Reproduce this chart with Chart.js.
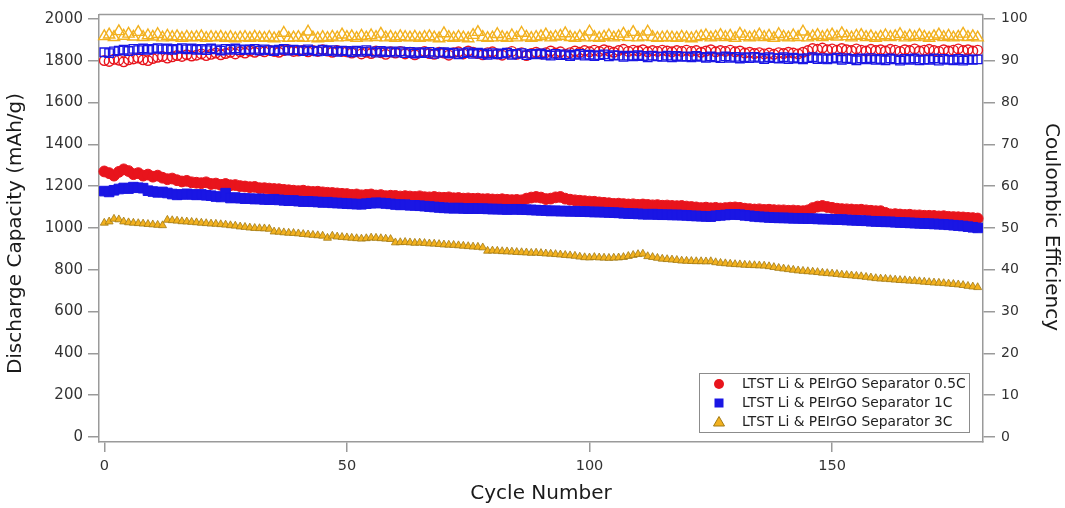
<!DOCTYPE html>
<html>
<head>
<meta charset="utf-8">
<script src="https://cdn.jsdelivr.net/npm/chart.js@4.4.1/dist/chart.umd.min.js"></script>
<style>
html,body{margin:0;padding:0;background:#fff;}
#wrap{width:1065px;height:508px;}
</style>
</head>
<body>
<div id="wrap"><canvas id="c" width="1065" height="508"></canvas></div>
<script>
// ---- data ----
const cycles = [];
for (let i = 0; i <= 180; i++) cycles.push(i);

const capTicks = [0,200,400,600,800,1000,1200,1400,1600,1800,2000];
const ceTicks = [0,10,20,30,40,50,60,70,80,90,100];
const cycleTicks = [0,50,100,150];

const seriesNames = [
  'LTST Li & PEIrGO Separator 0.5C',
  'LTST Li & PEIrGO Separator 1C',
  'LTST Li & PEIrGO Separator 3C'
];

const cap05C = [
1270,1262,1250,1268,1280,1272,1257,1262,1250,1255,
1245,1250,1240,1233,1236,1228,1222,1225,1218,1216,
1214,1218,1210,1212,1206,1210,1204,1205,1200,1198,
1195,1196,1190,1190,1188,1186,1185,1182,1180,1178,
1176,1178,1174,1172,1173,1170,1168,1167,1165,1163,
1162,1158,1160,1156,1158,1160,1155,1157,1152,1154,
1153,1150,1152,1150,1148,1151,1147,1146,1148,1145,
1144,1146,1142,1143,1140,1141,1139,1140,1137,1138,
1136,1135,1137,1134,1133,1134,1132,1140,1145,1148,
1145,1138,1140,1146,1148,1140,1135,1132,1130,1128,
1126,1125,1122,1120,1118,1115,1116,1114,1112,1113,
1110,1112,1110,1108,1109,1106,1107,1105,1104,1105,
1102,1100,1098,1095,1097,1094,1096,1093,1095,1097,
1098,1096,1092,1090,1088,1089,1086,1087,1085,1084,
1084,1082,1083,1081,1080,1084,1095,1102,1105,1100,
1096,1092,1090,1089,1088,1086,1087,1084,1082,1080,
1080,1072,1065,1066,1064,1062,1063,1060,1060,1058,
1058,1057,1055,1056,1053,1052,1051,1050,1048,1047,
1045];

const cap1C = [
1176,1172,1180,1186,1191,1188,1195,1192,1190,1178,
1174,1170,1172,1167,1162,1158,1160,1163,1160,1158,
1160,1156,1154,1150,1148,1166,1143,1145,1142,1140,
1140,1138,1139,1136,1135,1137,1134,1132,1130,1131,
1128,1126,1127,1125,1124,1122,1123,1120,1119,1118,
1116,1115,1114,1113,1116,1118,1120,1119,1117,1115,
1112,1110,1111,1108,1108,1106,1104,1102,1100,1098,
1096,1095,1094,1095,1093,1092,1093,1092,1092,1091,
1090,1090,1089,1088,1089,1089,1088,1087,1086,1085,
1084,1083,1081,1082,1080,1081,1079,1080,1078,1078,
1077,1076,1076,1075,1074,1073,1072,1070,1069,1068,
1067,1066,1065,1066,1064,1063,1063,1062,1062,1061,
1060,1058,1057,1056,1055,1054,1058,1060,1062,1064,
1065,1063,1060,1058,1055,1053,1052,1050,1049,1048,
1048,1047,1046,1046,1045,1044,1044,1043,1042,1042,
1041,1040,1040,1038,1037,1036,1035,1034,1032,1031,
1030,1029,1029,1027,1026,1025,1024,1023,1022,1021,
1020,1019,1018,1017,1015,1013,1011,1009,1006,1003,
1000];

const cap3C = [
1024,1030,1043,1040,1030,1026,1024,1022,1020,1018,
1016,1014,1012,1038,1036,1034,1031,1030,1028,1026,
1024,1022,1020,1019,1017,1015,1012,1010,1006,1004,
1001,999,998,997,995,982,981,978,976,975,
973,970,968,966,964,962,952,962,958,956,
954,952,950,948,950,953,952,950,948,946,
930,931,932,930,928,929,927,925,924,922,
920,919,918,916,914,912,910,909,906,890,
891,890,888,887,886,884,883,882,880,881,
879,877,876,874,872,870,868,866,862,859,
858,860,858,857,856,857,858,860,865,870,
874,876,864,860,856,852,850,848,846,843,
842,841,840,840,839,840,835,832,830,828,
826,825,823,822,821,820,819,816,812,808,
805,802,799,796,794,792,790,788,785,783,
781,779,776,774,772,770,768,765,762,759,
757,756,754,752,750,749,747,746,744,742,
740,738,737,735,733,731,729,726,722,719,
716];

const ce05C = [
90.0,89.8,90.3,90.1,89.7,90.2,90.4,90.6,90.2,90.0,
90.5,90.8,91.0,90.6,90.9,91.2,91.0,91.4,91.1,91.3,
91.6,91.2,91.5,91.8,91.4,91.7,92.0,91.6,92.1,91.8,
92.3,92.0,92.4,92.1,92.5,92.2,92.0,92.4,92.6,92.2,
92.3,92.5,92.1,92.4,92.2,92.6,92.3,92.0,92.4,92.2,
92.1,91.8,92.2,91.6,92.0,91.7,92.3,91.9,91.5,92.1,
91.8,92.2,91.6,92.0,91.4,91.9,92.2,91.7,91.5,92.0,
91.8,91.3,91.9,92.1,91.6,92.3,92.0,91.7,91.4,91.9,
92.1,91.6,91.3,91.8,92.2,91.5,91.9,91.2,91.7,92.0,
91.6,91.9,92.3,91.8,92.1,91.5,91.9,92.3,92.0,92.4,
92.1,92.5,92.2,92.6,92.3,92.0,92.4,92.7,92.2,92.5,
92.3,92.6,92.1,92.4,92.2,92.5,92.3,92.1,92.4,92.2,
92.5,92.2,92.4,92.0,92.3,92.6,92.1,92.4,92.2,92.5,
92.1,92.3,91.8,92.0,91.7,91.9,91.6,91.8,91.5,91.9,
91.7,92.0,91.8,91.6,92.0,92.4,92.9,92.7,93.0,92.6,
92.8,92.5,92.9,92.6,92.4,92.8,92.5,92.3,92.7,92.4,
92.6,92.3,92.7,92.5,92.2,92.6,92.4,92.8,92.3,92.5,
92.7,92.4,92.2,92.6,92.3,92.5,92.8,92.4,92.6,92.3,
92.5];

const ce1C = [
92.0,91.8,92.2,92.4,92.6,92.3,92.8,92.5,92.9,92.6,
92.8,93.0,92.7,92.9,92.6,92.8,93.0,92.7,92.9,92.6,
92.8,92.5,92.9,92.7,92.4,92.8,92.6,92.9,92.5,92.7,
92.6,92.8,92.4,92.7,92.5,92.3,92.6,92.8,92.4,92.6,
92.5,92.3,92.7,92.4,92.2,92.6,92.3,92.5,92.1,92.4,
92.3,92.0,92.4,92.1,92.5,92.2,91.9,92.3,92.0,92.2,
91.9,92.2,91.8,92.1,91.7,92.0,91.8,92.1,91.6,91.9,
92.0,91.7,91.9,91.5,91.8,92.0,91.6,91.9,91.7,91.4,
91.8,91.5,91.7,91.9,91.4,91.6,91.8,91.3,91.6,91.5,
91.7,91.4,91.2,91.6,91.3,91.5,91.1,91.4,91.6,91.2,
91.4,91.1,91.3,91.5,91.0,91.3,91.2,90.9,91.2,91.0,
91.3,91.1,90.8,91.2,91.0,90.9,91.2,90.8,91.1,90.9,
91.0,90.8,91.1,90.9,90.7,91.0,90.8,90.6,91.0,90.7,
90.9,90.5,90.8,90.6,90.9,90.7,90.4,90.8,90.6,90.5,
90.8,90.4,90.7,90.5,90.3,90.6,90.8,90.4,90.6,90.3,
90.5,90.7,90.2,90.6,90.4,90.1,90.5,90.3,90.6,90.2,
90.4,90.1,90.5,90.3,90.0,90.4,90.2,90.5,90.1,90.3,
90.2,90.5,90.0,90.4,90.2,90.1,90.4,90.0,90.3,90.2,
90.3];

const ce3C = [
95.8,96.2,95.6,97.0,95.9,96.4,95.7,96.8,95.6,96.0,
95.7,96.3,95.5,95.9,95.6,95.8,95.4,95.7,95.5,95.6,
95.8,95.4,95.6,95.5,95.7,95.4,95.6,95.3,95.5,95.6,
95.4,95.7,95.5,95.4,95.6,95.3,95.5,96.6,95.4,95.5,
95.6,95.4,96.9,95.5,95.3,95.6,95.4,95.7,95.5,96.2,
95.6,95.8,95.4,95.9,95.5,96.0,95.6,96.4,95.5,95.7,
95.4,95.8,95.6,95.5,95.7,95.4,95.6,95.8,95.5,95.3,
96.5,95.6,95.4,95.7,95.5,95.3,96.1,96.8,95.6,95.4,
95.5,96.3,95.6,95.4,96.0,95.5,96.6,95.7,95.4,95.6,
95.8,96.2,95.5,95.7,95.9,96.5,95.6,95.4,95.8,95.5,
96.9,95.6,95.4,95.7,96.0,95.5,95.8,96.4,95.6,96.8,
95.5,95.7,96.9,95.6,95.4,95.5,95.6,95.5,95.4,95.7,
95.5,95.3,95.6,95.8,96.0,95.5,95.7,96.1,95.6,95.9,
95.4,96.4,95.8,95.5,95.7,96.2,95.6,95.9,95.4,96.3,
95.7,95.5,96.0,95.6,96.9,95.5,95.8,96.1,95.6,95.9,
96.2,95.7,96.5,95.8,95.5,95.9,96.1,95.6,95.8,95.4,
95.7,96.0,95.6,95.8,96.3,95.5,95.9,95.6,96.1,95.7,
95.4,95.8,96.2,95.6,95.9,95.5,95.7,96.4,95.6,95.8,
95.5];

// ---- styles ----
const RED = '#e8141c', BLUE = '#1a16e4', ORANGE = '#f2b11f', ORANGE_EDGE = '#a27a14';
const FONT = '"DejaVu Sans", "Liberation Sans", sans-serif';

function pts(vals) { return cycles.map((c, i) => ({ x: c, y: vals[i] })); }

const datasets = [
  { label: seriesNames[0] + ' CE', data: pts(ce05C), yAxisID: 'y2', pointStyle: 'circle', pointRadius: 4.8,
    backgroundColor: 'rgba(0,0,0,0)', borderColor: RED, pointBorderWidth: 1.4, order: 6 },
  { label: seriesNames[1] + ' CE', data: pts(ce1C), yAxisID: 'y2', pointStyle: 'rect', pointRadius: 6,
    backgroundColor: 'rgba(0,0,0,0)', borderColor: BLUE, pointBorderWidth: 1.4, order: 5 },
  { label: seriesNames[2] + ' CE', data: pts(ce3C), yAxisID: 'y2', pointStyle: 'triangle', pointRadius: 6.5,
    backgroundColor: 'rgba(0,0,0,0)', borderColor: ORANGE, pointBorderWidth: 1.4, order: 4 },
  { label: seriesNames[0], data: pts(cap05C), yAxisID: 'y', pointStyle: 'circle', pointRadius: 5.4,
    backgroundColor: RED, borderColor: RED, pointBorderWidth: 1, order: 3 },
  { label: seriesNames[1], data: pts(cap1C), yAxisID: 'y', pointStyle: 'rect', pointRadius: 6.8,
    backgroundColor: BLUE, borderColor: BLUE, pointBorderWidth: 1, order: 2 },
  { label: seriesNames[2], data: pts(cap3C), yAxisID: 'y', pointStyle: 'triangle', pointRadius: 4.6,
    backgroundColor: ORANGE, borderColor: ORANGE_EDGE, pointBorderWidth: 0.8, order: 1 }
];
datasets.forEach(d => { d.showLine = false; d.clip = false; d.pointHoverRadius = d.pointRadius; });

const frameColor = '#9a9a9a';

const decorPlugin = {
  id: 'decor',
  afterDraw(chart) {
    const ctx = chart.ctx, a = chart.chartArea;
    ctx.save();
    // top frame line
    ctx.strokeStyle = frameColor; ctx.lineWidth = 1.5;
    ctx.beginPath(); ctx.moveTo(a.left, a.top); ctx.lineTo(a.right, a.top); ctx.stroke();

    // axis titles
    ctx.fillStyle = '#1a1a1a';
    ctx.font = '20px ' + FONT;
    ctx.textAlign = 'center'; ctx.textBaseline = 'alphabetic';
    ctx.fillText('Cycle Number', (a.left + a.right) / 2, 499);

    ctx.save();
    ctx.translate(21, 233.5); ctx.rotate(-Math.PI / 2);
    ctx.fillText('Discharge Capacity (mAh/g)', 0, 0);
    ctx.restore();

    ctx.save();
    ctx.translate(1046, 227); ctx.rotate(Math.PI / 2);
    ctx.fillText('Coulombic Efficiency', 0, 0);
    ctx.restore();

    // legend box
    const bx = 699.5, by = 373.5, bw = 270, bh = 59;
    ctx.fillStyle = '#fff'; ctx.fillRect(bx, by, bw, bh);
    ctx.strokeStyle = '#8c8c8c'; ctx.lineWidth = 1; ctx.strokeRect(bx, by, bw, bh);
    const rows = [384, 403, 422];
    const mx = 719;
    ctx.font = '13.8px ' + FONT; ctx.textAlign = 'left'; ctx.textBaseline = 'middle';
    ctx.fillStyle = RED; ctx.beginPath(); ctx.arc(mx, rows[0], 5, 0, Math.PI * 2); ctx.fill();
    ctx.fillStyle = BLUE; ctx.fillRect(mx - 4.5, rows[1] - 4.5, 9, 9);
    ctx.fillStyle = ORANGE; ctx.strokeStyle = ORANGE_EDGE; ctx.lineWidth = 1;
    ctx.beginPath(); ctx.moveTo(mx, rows[2] - 5.5); ctx.lineTo(mx + 5.5, rows[2] + 4); ctx.lineTo(mx - 5.5, rows[2] + 4); ctx.closePath();
    ctx.fill(); ctx.stroke();
    ctx.fillStyle = '#222';
    seriesNames.forEach((n, i) => ctx.fillText(n, 742, rows[i] + 0.5));
    ctx.restore();
  }
};

function fixedTicks(values) {
  return function (scale) { scale.ticks = values.map(v => ({ value: v })); };
}
const plain = v => String(v);

new Chart(document.getElementById('c'), {
  type: 'scatter',
  data: { datasets },
  options: {
    responsive: false,
    animation: false,
    devicePixelRatio: 1,
    layout: { padding: { top: 12, left: 0, right: 0, bottom: 0 } },
    plugins: { legend: { display: false }, tooltip: { enabled: false } },
    scales: {
      x: {
        type: 'linear', position: 'bottom', min: -1.09, max: 181.1,
        afterBuildTicks: fixedTicks(cycleTicks),
        afterFit(s) { s.height = 66; },
        grid: { drawOnChartArea: false, drawTicks: true, tickLength: 10, color: frameColor, lineWidth: 1.5 },
        border: { display: true, color: frameColor, width: 1.5 },
        ticks: { color: '#333', font: { family: FONT, size: 14.5 }, padding: 6, maxRotation: 0, callback: plain }
      },
      y: {
        type: 'linear', position: 'left', min: -23.8, max: 2021,
        afterBuildTicks: fixedTicks(capTicks),
        afterFit(s) { s.width = 99; },
        grid: { drawOnChartArea: false, drawTicks: true, tickLength: 11, color: frameColor, lineWidth: 1.5 },
        border: { display: true, color: frameColor, width: 1.5 },
        ticks: { color: '#333', font: { family: FONT, size: 15 }, padding: 5, callback: plain }
      },
      y2: {
        type: 'linear', position: 'right', min: -1.19, max: 101.05,
        afterBuildTicks: fixedTicks(ceTicks),
        afterFit(s) { s.width = 82; },
        grid: { drawOnChartArea: false, drawTicks: true, tickLength: 12, color: frameColor, lineWidth: 1.5 },
        border: { display: true, color: frameColor, width: 1.5 },
        ticks: { color: '#333', font: { family: FONT, size: 14 }, padding: 6, callback: plain }
      }
    }
  },
  plugins: [decorPlugin]
});
</script>
</body>
</html>
